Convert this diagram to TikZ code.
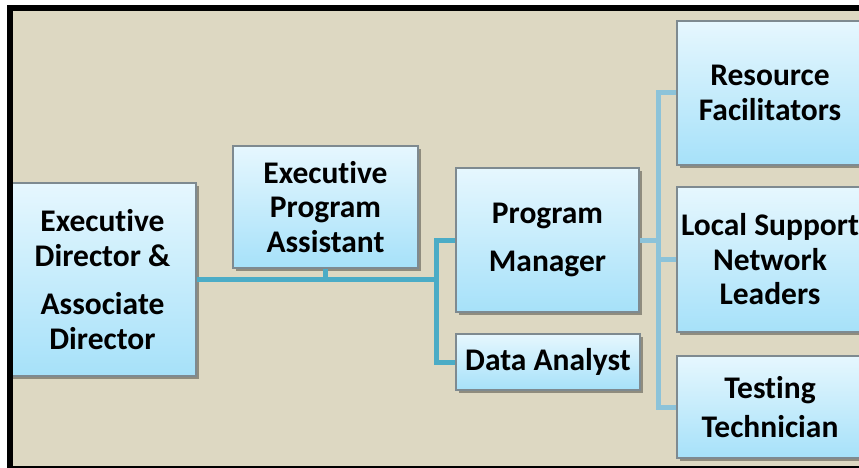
\documentclass[tikz,border=0pt]{standalone}
\usepackage{fontspec}
\setmainfont{Carlito}[Ligatures=NoCommon]
\usetikzlibrary{shadows}

\definecolor{paper}{HTML}{DDD8C2}
\definecolor{boxtop}{HTML}{E6F7FE}
\definecolor{boxbot}{HTML}{A6E1F9}
\definecolor{boxedge}{HTML}{7E8A90}
\definecolor{linkdark}{HTML}{4BACC6}
\definecolor{linklight}{HTML}{8CC3D9}
\definecolor{baseline}{HTML}{4A4A3C}

\tikzset{
  orgbox/.style={
    draw=boxedge, line width=1.2pt,
    top color=boxtop, bottom color=boxbot,
    drop shadow={shadow xshift=2.5pt, shadow yshift=-3pt, fill=black, opacity=0.35},
    align=center, inner sep=0pt,
    font=\fontsize{31.5}{34.5}\selectfont\bfseries
  },
  linkleft/.style={draw=linkdark, line width=5pt},
  linkright/.style={draw=linklight, line width=5pt},
}

\begin{document}
\begin{tikzpicture}[x=1pt, y=-1pt]
  \useasboundingbox (0,0) rectangle (859,468);
  \clip (0,0) rectangle (859,468);

  % panel background
  \fill[paper] (7,5) rectangle (870,468);
  \fill[baseline] (7,466) rectangle (870,468);

  % junction points of the connector buses
  \coordinate (jL) at (436,279.5);
  \coordinate (jR) at (658,240);

  % boxes
  \node[orgbox, minimum width=187pt, minimum height=193pt] (ed) at (102.5,279.5)
    {Executive\\Director \&\\[14pt]Associate\\Director};
  \node[orgbox, minimum width=185pt, minimum height=122pt] (epa) at (325.5,207)
    {Executive\\Program\\Assistant};
  \node[orgbox, minimum width=183pt, minimum height=144pt] (pm) at (547.5,240)
    {Program\\[14pt]Manager};
  \node[orgbox, minimum width=184pt, minimum height=56pt] (da) at (548,362)
    {Data Analyst};
  \node[orgbox, minimum width=186pt, minimum height=144pt] (rf) at (770,93)
    {Resource\\Facilitators};
  \node[orgbox, minimum width=186pt, minimum height=145pt] (ls) at (770,259.5)
    {Local Support\\Network\\Leaders};
  \node[orgbox, minimum width=186pt, minimum height=102pt] (tt) at (770,407)
    {Testing\\[4pt]Technician};

  % left bus: director to manager and analyst, assistant drops onto it
  \draw[linkleft] (ed.east) -- (jL);
  \draw[linkleft] (epa.south) -- (epa.south |- jL);
  \draw[linkleft] (pm.west) -| (jL) |- (da.west);

  % right bus: manager to the field staff
  \draw[linkright] (pm.east) -- (jR);
  \draw[linkright] (rf.west) -| (jR) |- (tt.west);
  \draw[linkright] (ls.west) -- (ls.west -| jR);

  % heavy frame on the left and top edges
  \fill[black] (7,5) rectangle (13,468);
  \fill[black] (7,5) rectangle (870,11);
\end{tikzpicture}
\end{document}
